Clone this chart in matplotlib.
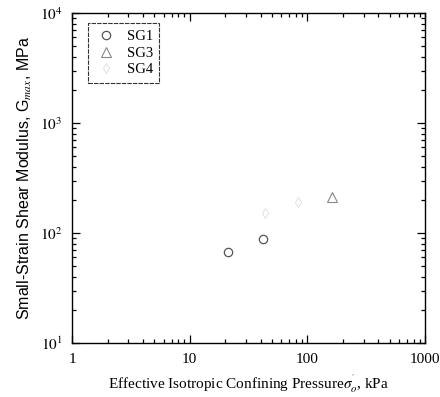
import matplotlib.pyplot as plt
from matplotlib.ticker import FixedLocator, FixedFormatter, LogLocator, NullFormatter

# Data
sg1_pressure = [21, 42]
sg1_gmax = [67, 88]
sg3_pressure = [162]
sg3_gmax = [212]
sg4_pressure = [44, 83]
sg4_gmax = [152, 191]

x_ticks = [1, 10, 100, 1000]
x_tick_labels = ["1", "10", "100", "1000"]
y_ticks = [10, 100, 1000, 10000]
y_tick_labels = ["$10^1$", "$10^2$", "$10^3$", "$10^4$"]

plt.rcParams['font.family'] = ['Liberation Serif', 'DejaVu Serif']
plt.rcParams['mathtext.fontset'] = 'stix'

fig = plt.figure(figsize=(4.4, 3.97), dpi=100)
ax = fig.add_axes([0.164, 0.136, 0.802, 0.831])

ax.plot(sg1_pressure, sg1_gmax, "o", mfc="none", mec="#555555", ms=6, mew=0.9, label="SG1")
ax.plot(sg3_pressure, sg3_gmax, "^", mfc="none", mec="#888888", ms=7, mew=0.8, label="SG3")
ax.plot(sg4_pressure, sg4_gmax, "d", mfc="none", mec="#dddddd", ms=5, mew=0.6, label="SG4")

ax.set_xscale("log")
ax.set_yscale("log")
ax.set_xlim(1, 1000)
ax.set_ylim(10, 10000)

ax.xaxis.set_major_locator(FixedLocator(x_ticks))
ax.xaxis.set_major_formatter(FixedFormatter(x_tick_labels))
ax.yaxis.set_major_locator(FixedLocator(y_ticks))
ax.yaxis.set_major_formatter(FixedFormatter(y_tick_labels))
for axis in (ax.xaxis, ax.yaxis):
    axis.set_minor_locator(LogLocator(base=10, subs=range(2, 10)))
    axis.set_minor_formatter(NullFormatter())

ax.tick_params(which="both", direction="in", top=True, right=True, labelsize=11, width=0.9)
ax.tick_params(which="major", length=6, pad=7)
ax.tick_params(which="minor", length=3)
for s in ax.spines.values():
    s.set_linewidth(1.0)

ax.set_xlabel(r"Effective Isotropic Confining Pressure$\sigma^{'}_{o}$, kPa", fontsize=11, labelpad=5)
ax.set_ylabel(r"Small-Strain Shear Modulus, G$_{max}$, MPa", fontsize=11.5,
              family=['Liberation Sans', 'DejaVu Sans'], labelpad=4)

leg = ax.legend(loc="upper left", fontsize=10.5, frameon=True, fancybox=False,
                edgecolor="black", borderpad=0.45, handletextpad=0.6, handlelength=1.6,
                labelspacing=0.25, borderaxespad=0, bbox_to_anchor=(0.045, 0.97))
leg.get_frame().set_linewidth(0.8)
leg.get_frame().set_linestyle((0, (4, 1)))

fig.savefig("out.png", dpi=100)
